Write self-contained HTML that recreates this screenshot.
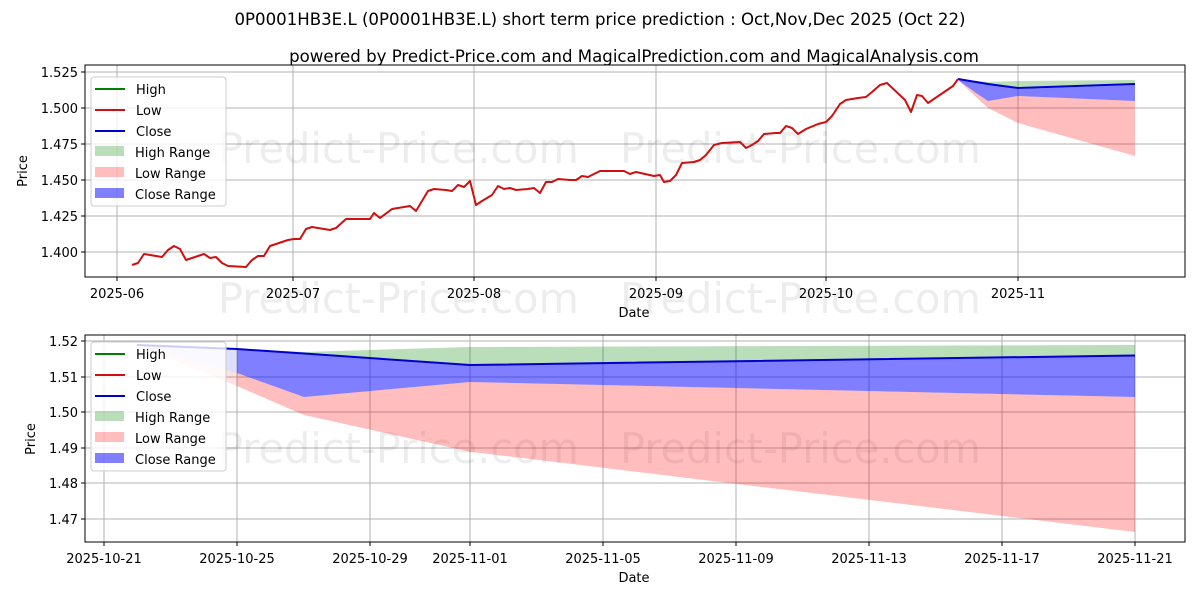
<!DOCTYPE html>
<html><head><meta charset="utf-8"><style>body{margin:0;background:#fff}svg{display:block}text{font-family:"DejaVu Sans","Liberation Sans",sans-serif;fill:#000}</style></head><body>
<svg width="1200" height="600" viewBox="0 0 1200 600" xmlns="http://www.w3.org/2000/svg">
<text x="600" y="25" font-size="16.6" text-anchor="middle">0P0001HB3E.L (0P0001HB3E.L) short term price prediction : Oct,Nov,Dec 2025 (Oct 22)</text>
<text x="634" y="62" font-size="16.6" text-anchor="middle">powered by Predict-Price.com and MagicalPrediction.com and MagicalAnalysis.com</text>

<!-- TOP CHART -->
<g stroke="#b0b0b0" stroke-width="1">
<line x1="117" y1="65" x2="117" y2="277"/><line x1="293" y1="65" x2="293" y2="277"/><line x1="474" y1="65" x2="474" y2="277"/><line x1="656" y1="65" x2="656" y2="277"/><line x1="826" y1="65" x2="826" y2="277"/><line x1="1018" y1="65" x2="1018" y2="277"/>
<line x1="85" y1="72" x2="1185" y2="72"/><line x1="85" y1="108" x2="1185" y2="108"/><line x1="85" y1="144" x2="1185" y2="144"/><line x1="85" y1="180" x2="1185" y2="180"/><line x1="85" y1="216" x2="1185" y2="216"/><line x1="85" y1="252" x2="1185" y2="252"/>
</g>
<g font-size="41.5">
<text x="218" y="163" style="fill:#000;fill-opacity:0.07">Predict-Price.com</text><text x="620" y="163" style="fill:#000;fill-opacity:0.07">Predict-Price.com</text>
<text x="218" y="313" style="fill:#000;fill-opacity:0.07">Predict-Price.com</text><text x="620" y="313" style="fill:#000;fill-opacity:0.07">Predict-Price.com</text>
</g>
<polygon fill="#008000" fill-opacity="0.27" points="958,80 976,81 988,82 1018,81 1135,80 1135,85 1018,89 988,84 976,82 958,80"/>
<polygon fill="#0000ff" fill-opacity="0.5" points="958,80 976,82 988,84 1018,89 1135,85 1135,101 1018,96 988,101 976,93"/>
<polygon fill="#ff0000" fill-opacity="0.26" points="958,80 976,93 988,101 1018,96 1135,101 1135,156 1018,123 988,108 976,97"/>
<polyline fill="none" stroke="#0000cc" stroke-width="2" points="958,79 988,84 1018,88 1135,84"/>
<polyline fill="none" stroke="#d01010" stroke-width="2" stroke-linejoin="round" points="132,265 138,263 144,254 150,255 162,257 168,250 174,246 180,249 186,260 192,258 204,254 210,258 216,257 222,263 228,266 246,267 252,260 258,256 264,256 270,246 276,244 288,240 294,239 300,239 306,229 312,227 324,229 330,230 336,228 346,219 370,219 374,213 380,218 392,209 404,207 410,206 416,211 428,191 434,189 446,190 452,191 458,185 464,187 470,181 476,205 482,201 492,195 498,186 504,189 510,188 516,190 528,189 534,188 540,193 546,182 552,182 558,179 570,180 576,180 582,176 588,177 600,171 624,171 630,174 636,172 654,176 660,175 664,182 670,181 676,175 682,163 694,162 700,160 706,155 714,145 722,143 740,142 746,148 752,145 758,141 764,134 776,133 780,133 786,126 792,128 798,134 806,129 818,124 826,122 832,116 840,104 846,100 858,98 866,97 872,92 880,85 887,83 905,100 911,112 917,95 922,96 928,103 950,88 953,86 958,79"/>
<rect x="85" y="65" width="1100" height="212" fill="none" stroke="#000" stroke-width="1"/>
<g stroke="#000"><line x1="117" y1="277" x2="117" y2="281"/><line x1="293" y1="277" x2="293" y2="281"/><line x1="474" y1="277" x2="474" y2="281"/><line x1="656" y1="277" x2="656" y2="281"/><line x1="826" y1="277" x2="826" y2="281"/><line x1="1018" y1="277" x2="1018" y2="281"/>
<line x1="81" y1="72" x2="85" y2="72"/><line x1="81" y1="108" x2="85" y2="108"/><line x1="81" y1="144" x2="85" y2="144"/><line x1="81" y1="180" x2="85" y2="180"/><line x1="81" y1="216" x2="85" y2="216"/><line x1="81" y1="252" x2="85" y2="252"/></g>
<g font-size="13" text-anchor="end"><text x="78" y="77">1.525</text><text x="78" y="113">1.500</text><text x="78" y="149">1.475</text><text x="78" y="185">1.450</text><text x="78" y="221">1.425</text><text x="78" y="257">1.400</text></g>
<g font-size="13" text-anchor="middle"><text x="117" y="298">2025-06</text><text x="293" y="298">2025-07</text><text x="474" y="298">2025-08</text><text x="656" y="298">2025-09</text><text x="826" y="298">2025-10</text><text x="1018" y="298">2025-11</text><text x="634" y="317">Date</text></g>
<text font-size="13" transform="translate(27,171) rotate(-90)" text-anchor="middle">Price</text>
<g>
<rect x="91" y="77" width="135" height="129" rx="3" fill="#fff" fill-opacity="0.8" stroke="#ccc"/>
<line x1="95" y1="89" x2="125" y2="89" stroke="#008000" stroke-width="2"/><line x1="95" y1="110" x2="125" y2="110" stroke="#d01010" stroke-width="2"/><line x1="95" y1="131" x2="125" y2="131" stroke="#0000cc" stroke-width="2"/>
<rect x="95" y="146" width="29" height="10" fill="#008000" fill-opacity="0.27"/><rect x="95" y="167" width="29" height="10" fill="#ff0000" fill-opacity="0.26"/><rect x="95" y="188" width="29" height="10" fill="#0000ff" fill-opacity="0.5"/>
<g font-size="13"><text x="136" y="94">High</text><text x="136" y="115">Low</text><text x="136" y="136">Close</text><text x="135" y="157">High Range</text><text x="135" y="178">Low Range</text><text x="135" y="199">Close Range</text></g>
</g>

<!-- BOTTOM CHART -->
<g stroke="#b0b0b0" stroke-width="1">
<line x1="104" y1="335" x2="104" y2="542"/><line x1="237" y1="335" x2="237" y2="542"/><line x1="370" y1="335" x2="370" y2="542"/><line x1="470" y1="335" x2="470" y2="542"/><line x1="603" y1="335" x2="603" y2="542"/><line x1="736" y1="335" x2="736" y2="542"/><line x1="869" y1="335" x2="869" y2="542"/><line x1="1002" y1="335" x2="1002" y2="542"/><line x1="1135" y1="335" x2="1135" y2="542"/>
<line x1="85" y1="341" x2="1185" y2="341"/><line x1="85" y1="377" x2="1185" y2="377"/><line x1="85" y1="412" x2="1185" y2="412"/><line x1="85" y1="448" x2="1185" y2="448"/><line x1="85" y1="483" x2="1185" y2="483"/><line x1="85" y1="519" x2="1185" y2="519"/>
</g>
<g font-size="41.5"><text x="218" y="463" style="fill:#000;fill-opacity:0.07">Predict-Price.com</text><text x="620" y="463" style="fill:#000;fill-opacity:0.07">Predict-Price.com</text></g>
<polygon fill="#0000ff" fill-opacity="0.13" points="137,345 237,349 237,373 137,345"/>
<polygon fill="#ff0000" fill-opacity="0.12" points="137,345 237,373 237,386"/>
<polygon fill="#008000" fill-opacity="0.27" points="237,349 304,352 470,347 1135,345 1135,355.5 470,365 304,353.5"/>
<polygon fill="#0000ff" fill-opacity="0.5" points="237,349 304,353.5 470,365 1135,355.5 1135,397 470,382 304,397 237,373"/>
<polygon fill="#ff0000" fill-opacity="0.26" points="237,373 304,397 470,382 1135,397 1135,532 470,451.7 304,415 237,386"/>
<polyline fill="none" stroke="#0000cc" stroke-width="2" points="137,345 237,349 304,353.5 470,365 1135,355.5"/>
<rect x="85" y="335" width="1100" height="207" fill="none" stroke="#000" stroke-width="1"/>
<g stroke="#000"><line x1="104" y1="542" x2="104" y2="546"/><line x1="237" y1="542" x2="237" y2="546"/><line x1="370" y1="542" x2="370" y2="546"/><line x1="470" y1="542" x2="470" y2="546"/><line x1="603" y1="542" x2="603" y2="546"/><line x1="736" y1="542" x2="736" y2="546"/><line x1="869" y1="542" x2="869" y2="546"/><line x1="1002" y1="542" x2="1002" y2="546"/><line x1="1135" y1="542" x2="1135" y2="546"/>
<line x1="81" y1="341" x2="85" y2="341"/><line x1="81" y1="377" x2="85" y2="377"/><line x1="81" y1="412" x2="85" y2="412"/><line x1="81" y1="448" x2="85" y2="448"/><line x1="81" y1="483" x2="85" y2="483"/><line x1="81" y1="519" x2="85" y2="519"/></g>
<g font-size="13" text-anchor="end"><text x="78" y="346">1.52</text><text x="78" y="382">1.51</text><text x="78" y="417">1.50</text><text x="78" y="453">1.49</text><text x="78" y="488">1.48</text><text x="78" y="524">1.47</text></g>
<g font-size="13" text-anchor="middle"><text x="104" y="563">2025-10-21</text><text x="237" y="563">2025-10-25</text><text x="370" y="563">2025-10-29</text><text x="470" y="563">2025-11-01</text><text x="603" y="563">2025-11-05</text><text x="736" y="563">2025-11-09</text><text x="869" y="563">2025-11-13</text><text x="1002" y="563">2025-11-17</text><text x="1135" y="563">2025-11-21</text><text x="634" y="582">Date</text></g>
<text font-size="13" transform="translate(35,439) rotate(-90)" text-anchor="middle">Price</text>
<g>
<rect x="91" y="342" width="135" height="129" rx="3" fill="#fff" fill-opacity="0.8" stroke="#ccc"/>
<line x1="95" y1="354" x2="125" y2="354" stroke="#008000" stroke-width="2"/><line x1="95" y1="375" x2="125" y2="375" stroke="#d01010" stroke-width="2"/><line x1="95" y1="396" x2="125" y2="396" stroke="#0000cc" stroke-width="2"/>
<rect x="95" y="411" width="29" height="10" fill="#008000" fill-opacity="0.27"/><rect x="95" y="432" width="29" height="10" fill="#ff0000" fill-opacity="0.26"/><rect x="95" y="453" width="29" height="10" fill="#0000ff" fill-opacity="0.5"/>
<g font-size="13"><text x="136" y="359">High</text><text x="136" y="380">Low</text><text x="136" y="401">Close</text><text x="135" y="422">High Range</text><text x="135" y="443">Low Range</text><text x="135" y="464">Close Range</text></g>
</g>
</svg>
</body></html>
